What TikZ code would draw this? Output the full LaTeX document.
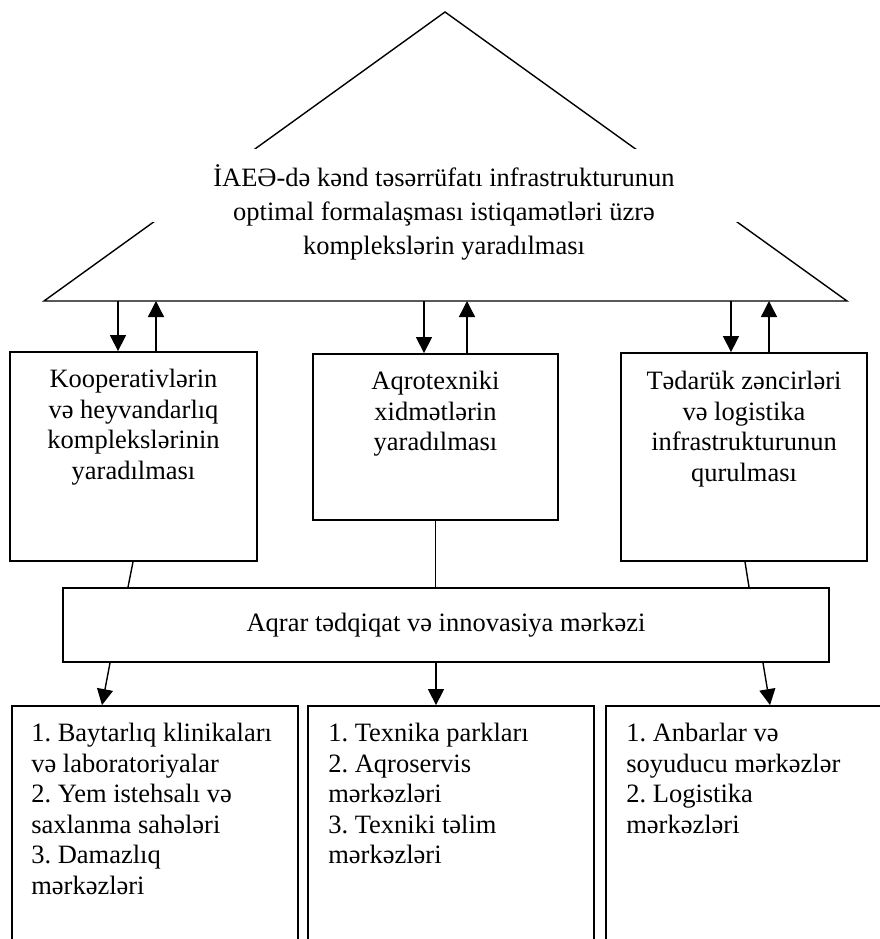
\documentclass[tikz,border=0pt]{standalone}
\usepackage{fontspec}
\setmainfont{Liberation Serif}
\usetikzlibrary{arrows.meta,positioning}
\frenchspacing

\begin{document}
\begin{tikzpicture}[x=1pt,y=-1pt,
	box/.style={draw, line width=1.8pt, inner sep=0pt},
	boxtext/.style={align=center, inner sep=0pt, font=\fontsize{26.5}{30.5}\selectfont},
	listtext/.style={align=left, inner sep=0pt, font=\fontsize{26.5}{30.5}\selectfont},
	arr/.style={line width=1.4pt, -{Triangle[length=16pt,width=16pt]}},
	link/.style={line width=1.4pt}]
	\useasboundingbox (0,0) rectangle (880,939);
	\clip (0,0) rectangle (880,939);
	
	% roof
	\coordinate (A) at (445,12);
	\coordinate (L) at (44,301);
	\coordinate (R) at (847,301);
	\draw[line width=1.4pt] (L) -- (A) -- (R) -- cycle;
	\fill[white] (150,149) rectangle (740,222);
	\node[boxtext, font=\fontsize{26.5}{34}\selectfont] (roof) at (444,212)
		{İAEƏ-də kənd təsərrüfatı infrastrukturunun\\optimal formalaşması istiqamətləri üzrə\\komplekslərin yaradılması};
	
	% three directions
	\node[box, minimum width=247, minimum height=209] (koop) at (133.5,456.5) {};
	\node[boxtext, anchor=north] (koop-t) at ([yshift=-18]koop.north)
		{Kooperativlərin\\və heyvandarlıq\\komplekslərinin\\yaradılması};
	\node[box, minimum width=245, minimum height=166] (aqro) at (435.5,437) {};
	\node[boxtext, anchor=north] (aqro-t) at ([yshift=-18]aqro.north)
		{Aqrotexniki\\xidmətlərin\\yaradılması};
	\node[box, minimum width=246, minimum height=208] (log) at (744,457) {};
	\node[boxtext, anchor=north] (log-t) at ([yshift=-19]log.north)
		{Tədarük zəncirləri\\və logistika\\infrastrukturunun\\qurulması};
	
	% arrows down from and up to the roof
	\foreach \b/\d/\u in {koop/-15.5/22.5, aqro/-11.5/31.5, log/-13/25} {
		\path ([xshift=\d]\b.north) coordinate (dn) ([xshift=\u]\b.north) coordinate (up);
		\draw[arr] (dn |- L) -- (dn);
		\draw[arr] (up) -- (up |- L);
	}
	
	% research centre
	\node[box, minimum width=766, minimum height=74, font=\fontsize{26.5}{30.5}\selectfont] (res) at (446,625)
		{Aqrar tədqiqat və innovasiya mərkəzi};
	\draw[link] ([xshift=-0.5]koop.south) -- ([xshift=-318]res.north);
	\draw[link] (aqro.south) -- (aqro.south |- res.north);
	\draw[link] ([xshift=1]log.south) -- ([xshift=303]res.north);
	
	% bottom lists (cut by the page)
	\node[box, minimum width=286, minimum height=254] (vet) at (155,833) {};
	\node[box, minimum width=286, minimum height=254] (tech) at (451,833) {};
	\node[box, minimum width=304, minimum height=254] (anbar) at (758,833) {};
	\draw[arr] ([xshift=-336]res.south) -- ([xshift=-53]vet.north);
	\draw[arr] ([xshift=-10]res.south) -- ([xshift=-15]tech.north);
	\draw[arr] ([xshift=317]res.south) -- ([xshift=12]anbar.north);
	
	\node[listtext, anchor=north west] (vet-t) at ([xshift=20,yshift=-18]vet.north west)
		{1. Baytarlıq klinikaları\\və laboratoriyalar\\2. Yem istehsalı və\\saxlanma sahələri\\3. Damazlıq\\mərkəzləri};
	\node[listtext, anchor=north west] (tech-t) at ([xshift=21,yshift=-18]tech.north west)
		{1. Texnika parkları\\2. Aqroservis\\mərkəzləri\\3. Texniki təlim\\mərkəzləri};
	\node[listtext, anchor=north west] (anbar-t) at ([xshift=21,yshift=-18]anbar.north west)
		{1. Anbarlar və\\soyuducu mərkəzlər\\2. Logistika\\mərkəzləri};
\end{tikzpicture}
\end{document}
